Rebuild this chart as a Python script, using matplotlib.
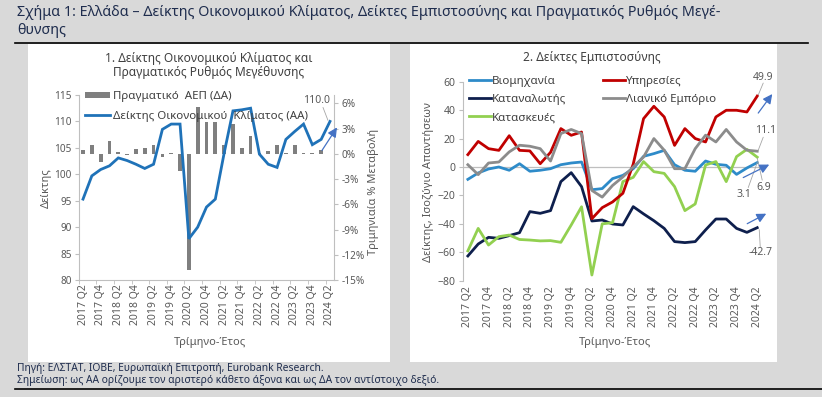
import numpy as np
import matplotlib
matplotlib.use('Agg')
import matplotlib.pyplot as plt
import matplotlib.transforms as mtransforms
from matplotlib.patches import Rectangle
from matplotlib.lines import Line2D

plt.rcParams['font.family'] = ['Noto Sans', 'DejaVu Sans']

# ---------------- data ----------------
tick_labels = ["2017 Q2", "2017 Q4", "2018 Q2", "2018 Q4", "2019 Q2", "2019 Q4",
               "2020 Q2", "2020 Q4", "2021 Q2", "2021 Q4", "2022 Q2", "2022 Q4",
               "2023 Q2", "2023 Q4", "2024 Q2"]

# Economic sentiment index (left axis), 2017Q2..2024Q2
climate = [95.3, 99.7, 100.9, 101.6, 103.1, 102.6, 101.9, 101.1, 101.9, 108.5,
           109.5, 109.5, 87.8, 90.0, 93.8, 95.3, 104.0, 112.0, 112.2, 112.5,
           103.8, 101.9, 101.3, 106.6, 108.1, 109.5, 105.6, 106.6, 110.0]
# Real GDP q/q % (right axis), 2017Q2..2024Q1
gdp = [0.4, 1.0, -1.0, 1.5, 0.25, -0.1, 0.6, 0.75, 1.0, -0.4,
       0.1, -2.0, -13.8, 5.6, 3.8, 3.8, 1.1, 3.6, 0.7, 2.1,
       0.05, 0.3, 1.0, 0.05, 1.0, 0.05, 0.05, 0.5]

industry = [-8.7, -4.2, -1.4, 0.0, -2.3, 2.3, -3.0, -2.3, -1.2, 1.6,
            2.8, 3.5, -16.0, -15.2, -8.2, -5.9, -1.2, 7.5, 9.4, 11.7,
            1.6, -2.3, -3.0, 4.2, 1.9, 1.2, -5.2, -0.7, 3.1]
services = [8.7, 18.0, 12.9, 11.7, 22.0, 11.7, 11.3, 2.3, 10.3, 27.0,
            22.3, 24.6, -36.4, -28.6, -24.6, -18.5, 2.0, 34.0, 42.7, 35.2,
            15.2, 27.0, 20.0, 17.6, 35.2, 39.9, 39.9, 38.7, 49.9]
consumer = [-62.6, -54.2, -49.5, -50.2, -48.3, -46.2, -31.4, -32.6, -30.7, -10.3,
            -4.0, -13.8, -38.0, -37.3, -40.1, -40.8, -27.9, -33.0, -37.8, -43.2,
            -52.5, -53.2, -52.5, -44.3, -36.6, -36.6, -43.2, -46.0, -42.7]
retail = [1.6, -5.4, 2.8, 3.5, 10.6, 15.3, 14.6, 12.9, 4.2, 23.5,
          26.4, 23.5, -16.5, -21.2, -13.0, -7.0, 0.0, 7.0, 20.0, 11.8,
          -1.2, -1.2, 12.9, 22.4, 17.6, 26.4, 17.6, 11.8, 11.1]
construction = [-59.0, -43.2, -54.9, -49.0, -47.9, -51.0, -51.4, -52.0, -51.8, -53.0,
                -40.8, -28.0, -76.0, -40.0, -39.2, -10.3, -7.3, 3.8, -3.3, -4.5,
                -13.8, -30.7, -26.0, 1.4, 3.8, -10.3, 7.3, 12.4, 6.9]

# ---------------- style ----------------
W, H = 822, 397
BG = '#d9d9d9'
TXT = '#1f2d4e'
TICK = '#595959'
SPINE = '#bfbfbf'
C_CLIM = '#1f72b8'
C_BAR = '#7f7f7f'
C_IND = '#2e8bc9'
C_SER = '#c00000'
C_CON = '#0e1f4d'
C_RET = '#8c8c8c'
C_CST = '#92d050'
C_ARR = '#4472c4'
C_LEAD = '#a6a6a6'


def fx(x):
    return x / W


def fy(y):
    return 1 - y / H


fig = plt.figure(figsize=(W / 100, H / 100), dpi=100)
fig.patch.set_facecolor(BG)

# panels
for (x0, x1) in [(28, 390), (410, 777)]:
    fig.add_artist(Rectangle((fx(x0), fy(362)), (x1 - x0) / W, (362 - 44) / H,
                             transform=fig.transFigure, facecolor='white',
                             edgecolor='none', zorder=0))
fig.add_artist(Line2D([fx(15), fx(808)], [fy(43), fy(43)], color='black', lw=1.2,
                      transform=fig.transFigure))
fig.add_artist(Line2D([fx(15), fx(822)], [fy(389), fy(389)], color='black', lw=1.2,
                      transform=fig.transFigure))

fig.text(fx(17), fy(13), "Σχήμα 1: Ελλάδα – Δείκτης Οικονομικού Κλίματος, Δείκτες Εμπιστοσύνης και Πραγματικός Ρυθμός Μεγέ-",
         fontsize=10.3, color=TXT, va='center', ha='left')
fig.text(fx(17), fy(30), "θυνσης", fontsize=10.3, color=TXT, va='center', ha='left')
fig.text(fx(17), fy(368), "Πηγή: ΕΛΣΤΑΤ, ΙΟΒΕ, Ευρωπαϊκή Επιτροπή, Eurobank Research.",
         fontsize=7.4, color=TXT, va='center', ha='left')
fig.text(fx(17), fy(380), "Σημείωση: ως ΑΑ ορίζουμε τον αριστερό κάθετο άξονα και ως ΔΑ τον αντίστοιχο δεξιό.",
         fontsize=7.4, color=TXT, va='center', ha='left')

n = len(climate)
x = np.arange(n)
xt = np.arange(0, n, 2)


def offs(ax, dx, dy):
    return ax.transData + mtransforms.ScaledTranslation(dx / 100, -dy / 100, fig.dpi_scale_trans)


def lbl(ax, val, txt_off, lead_a, lead_b):
    px, py = n - 1, val
    ax.annotate(f"{val:.1f}", xy=(px, py), xycoords='data', xytext=(px, py),
                textcoords=offs(ax, *txt_off),
                ha='center', va='center', fontsize=7.5, color=TICK)
    ax.annotate('', xy=(px, py), xycoords=offs(ax, *lead_b), xytext=(px, py),
                textcoords=offs(ax, *lead_a),
                arrowprops=dict(arrowstyle='-', color=C_LEAD, lw=0.6,
                                shrinkA=0, shrinkB=0))


def arr(ax, val, tail, head):
    px, py = n - 1, val
    ax.annotate('', xy=(px, py), xycoords=offs(ax, *head), xytext=(px, py),
                textcoords=offs(ax, *tail),
                arrowprops=dict(arrowstyle='-|>', color=C_ARR, lw=0.9, mutation_scale=14,
                                shrinkA=0, shrinkB=0))


# ---------------- left chart ----------------
ax1 = fig.add_axes([78.6 / W, fy(280), 255.8 / W, 185 / H])
ax1r = ax1.twinx()
ax1.set_zorder(ax1r.get_zorder() + 1)
ax1.patch.set_visible(False)

ax1r.bar(np.arange(len(gdp)), gdp, width=0.42, color=C_BAR, zorder=2)
ax1.plot(x, climate, color=C_CLIM, lw=2.0, solid_joinstyle='miter', zorder=3)

ax1.set_xlim(-0.5, n - 0.5)
ax1.set_ylim(80, 115)
ax1r.set_ylim(-15, 7)
ax1.set_yticks(np.arange(80, 116, 5))
ax1r.set_yticks(np.arange(-15, 7, 3))
ax1r.set_yticklabels([f"{v}%" for v in range(-15, 7, 3)])
ax1.set_xticks(xt)
ax1.set_xticklabels(tick_labels, rotation=90)
ax1.set_xticks(np.arange(-0.5, n, 2), minor=True)

for a in (ax1, ax1r):
    for s in a.spines.values():
        s.set_visible(False)
ax1.spines['left'].set_visible(True)
ax1.spines['left'].set_color(SPINE)
ax1.spines['bottom'].set_visible(True)
ax1.spines['bottom'].set_color(SPINE)
ax1r.spines['right'].set_visible(True)
ax1r.spines['right'].set_color(SPINE)
ax1.tick_params(axis='y', labelsize=7.2, labelcolor=TICK, color=SPINE, length=3, pad=2)
ax1r.tick_params(axis='y', labelsize=7.2, labelcolor=TICK, color=SPINE, length=3, pad=2)
ax1.tick_params(axis='x', which='major', labelsize=7.5, labelcolor=TICK, length=0, pad=3)
ax1.tick_params(axis='x', which='minor', color=SPINE, length=3)

fig.text(fx(209), fy(65.5), "1. Δείκτης Οικονομικού Κλίματος και\nΠραγματικός Ρυθμός Μεγέθυνσης",
         ha='center', va='center', fontsize=8.6, color='#404040', linespacing=1.15)
fig.text(fx(46), fy(188), "Δείκτης", rotation=90, ha='center', va='center', fontsize=8, color=TICK)
fig.text(fx(373), fy(192), "Τριμηνιαία % Μεταβολή", rotation=90, ha='center', va='center',
         fontsize=8, color=TICK)
fig.text(fx(210), fy(342), "Τρίμηνο-Έτος", ha='center', va='center', fontsize=8, color=TICK)

h1 = [Rectangle((0, 0), 1, 1, facecolor=C_BAR, edgecolor='none'),
      Line2D([], [], color=C_CLIM, lw=2)]
leg1 = ax1.legend(h1, ["Πραγματικό  ΑΕΠ (ΔΑ)", "Δείκτης Οικονομικού  Κλίματος (ΑΑ)"],
                  loc='upper left', bbox_to_anchor=(fx(85), fy(91)), bbox_transform=fig.transFigure,
                  frameon=False, fontsize=8.3, handlelength=2.2, handleheight=0.45,
                  handletextpad=0.25, labelspacing=0.75, borderaxespad=0, borderpad=0)
for t in leg1.get_texts():
    t.set_color('#404040')

lbl(ax1, climate[-1], (-13, -21), (-7, -14), (-2, -1))
arr(ax1, climate[-1], (-8, 29), (7, 6))

# ---------------- right chart ----------------
ax2 = fig.add_axes([462.7 / W, fy(280.7), 299.7 / W, 199 / H])
ax2.set_facecolor('none')
ax2.axhline(0, color=SPINE, lw=0.9, zorder=1)
series = [("Βιομηχανία", industry, C_IND), ("Καταναλωτής", consumer, C_CON),
          ("Κατασκευές", construction, C_CST), ("Υπηρεσίες", services, C_SER),
          ("Λιανικό Εμπόριο", retail, C_RET)]
lines = {}
for name, vals, col in series:
    lines[name] = ax2.plot(x, vals, color=col, lw=2.0, zorder=3, label=name)[0]

ax2.set_xlim(-0.5, n - 0.5)
ax2.set_ylim(-80, 60)
ax2.set_yticks(np.arange(-80, 61, 20))
ax2.set_xticks(xt)
ax2.set_xticklabels(tick_labels, rotation=90)
for s in ax2.spines.values():
    s.set_visible(False)
ax2.spines['left'].set_visible(True)
ax2.spines['left'].set_color(SPINE)
ax2.tick_params(axis='y', labelsize=7.5, labelcolor=TICK, color=SPINE, length=3, pad=2)
ax2.tick_params(axis='x', labelsize=7.5, labelcolor=TICK, length=0, pad=4)

fig.text(fx(592), fy(58), "2. Δείκτες Εμπιστοσύνης", ha='center', va='center', fontsize=8.6, color='#404040')
fig.text(fx(428), fy(182), "Δείκτης, Ισοζύγιο Απαντήσεων", rotation=90, ha='center', va='center',
         fontsize=8, color=TICK)
fig.text(fx(615), fy(342), "Τρίμηνο-Έτος", ha='center', va='center', fontsize=8, color=TICK)

leg2 = ax2.legend(handles=[lines[s[0]] for s in series], labels=[s[0] for s in series],
                  ncol=2, loc='upper left', bbox_to_anchor=(fx(469), fy(76)),
                  bbox_transform=fig.transFigure, frameon=False, fontsize=8.3,
                  handlelength=1.9, handletextpad=0.1, labelspacing=0.62,
                  columnspacing=3.2, borderaxespad=0, borderpad=0)
for t in leg2.get_texts():
    t.set_color('#404040')

lbl(ax2, services[-1], (6, -19), (6, -13), (1, -1))
lbl(ax2, retail[-1], (8, -21), (6, -14), (1, -1))
lbl(ax2, construction[-1], (6, 30), (0, 1), (5, 23))
lbl(ax2, industry[-1], (-13, 32), (0, 0), (-9, 25))
lbl(ax2, consumer[-1], (3, 25), (2, 2), (3, 19))
arr(ax2, services[-1], (1, 17), (15, -2))
arr(ax2, industry[-1], (-14, 15), (12, 2))
arr(ax2, consumer[-1], (-10, -4), (9, -14))

fig.savefig('out.png', dpi=100, facecolor=fig.get_facecolor())
